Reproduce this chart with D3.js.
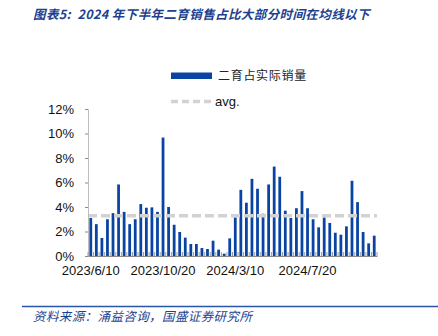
<!DOCTYPE html>
<html>
<head>
<meta charset="utf-8">
<script src="https://cdn.jsdelivr.net/npm/d3@7"></script>
<style>
  html, body { margin: 0; padding: 0; background: #fff; }
  svg { display: block; }
  .cjk { font-family: "Noto Sans CJK SC", sans-serif; }
  .num { font-family: "Liberation Sans", Arial, sans-serif; }
</style>
</head>
<body>
<svg id="chart" width="438" height="336"></svg>
<script>
// Ten-day periods (旬) of the sampled sales survey
const periods = [
  "2023/6/10","2023/6/20","2023/6/30","2023/7/10","2023/7/20","2023/7/31","2023/8/10","2023/8/20","2023/8/31",
  "2023/9/10","2023/9/20","2023/9/30","2023/10/10","2023/10/20","2023/10/31","2023/11/10","2023/11/20",
  "2023/11/30","2023/12/10","2023/12/20","2023/12/31","2024/1/10","2024/1/20","2024/1/31","2024/2/10",
  "2024/2/29","2024/3/10","2024/3/20","2024/3/31","2024/4/10","2024/4/20","2024/4/30","2024/5/10",
  "2024/5/20","2024/5/31","2024/6/10","2024/6/20","2024/6/30","2024/7/10","2024/7/20","2024/7/31",
  "2024/8/10","2024/8/20","2024/8/31","2024/9/10","2024/9/20","2024/9/30","2024/10/10","2024/10/20",
  "2024/10/31","2024/11/10","2024/11/20"
];

// 二育占实际销量 (%)
const shareValues = [
  3.1, 2.6, 1.47, 3.0, 3.5, 5.84, 3.6, 2.6, 3.0, 4.24,
  3.94, 3.97, 3.6, 9.67, 4.0, 2.55, 1.96, 1.5, 0.98, 0.98,
  0.65, 0.57, 1.25, 0.52, 0.19, 1.44, 3.15, 5.4, 4.35, 6.3,
  5.49, 3.45, 5.84, 7.3, 6.47, 3.7, 3.1, 3.9, 5.3, 3.9,
  3.0, 2.34, 3.15, 2.7, 1.9, 1.74, 2.42, 6.14, 4.4, 1.96,
  1.03, 1.66
];

const xTickLabels = ["2023/6/10", "2023/10/20", "2024/3/10", "2024/7/20"];
const yTicks = [0, 2, 4, 6, 8, 10, 12];

const seriesName = "二育占实际销量";
const avgName = "avg.";
const titleText = "图表5:  2024 年下半年二育销售占比大部分时间在均线以下";
const sourceText = "资料来源：涌益咨询，国盛证券研究所";

const BLUE = "#0a44a3";
const AVG_GREY = "#d2d2d2";
const TEXT_BLUE = "#1d3f8f";

const svg = d3.select("#chart");

const margin = { left: 88, right: 61, top: 109, bottom: 80 };
const W = 438, H = 336;
const innerW = W - margin.left - margin.right;
const innerH = H - margin.top - margin.bottom;

const x = d3.scaleBand().domain(periods).range([margin.left, margin.left + innerW]).paddingInner(0.5).paddingOuter(0.25);
const y = d3.scaleLinear().domain([0, 12]).range([margin.top + innerH, margin.top]);

// Title
svg.append("text")
  .attr("class", "cjk")
  .attr("x", 33).attr("y", 19)
  .attr("fill", TEXT_BLUE)
  .attr("font-size", 12.5)
  .attr("font-weight", "bold")
  .attr("font-style", "italic")
  .attr("letter-spacing", 0.4)
  .attr("xml:space", "preserve")
  .text(titleText);

// Bars
svg.append("g").selectAll("rect")
  .data(shareValues)
  .join("rect")
  .attr("x", (d, i) => x(periods[i]))
  .attr("y", d => y(d))
  .attr("width", x.bandwidth())
  .attr("height", d => y(0) - y(d))
  .attr("fill", BLUE);

// Average line
const avg = d3.mean(shareValues);
svg.append("line")
  .attr("x1", margin.left).attr("x2", margin.left + innerW)
  .attr("y1", y(avg)).attr("y2", y(avg))
  .attr("stroke", AVG_GREY)
  .attr("stroke-width", 3.5)
  .attr("stroke-dasharray", "9,4");

// Y axis
const yAxis = svg.append("g")
  .attr("transform", `translate(${margin.left},0)`)
  .call(d3.axisLeft(y).tickValues(yTicks).tickFormat(d => d + "%").tickSizeOuter(0).tickSize(3).tickPadding(11));
yAxis.select(".domain").attr("stroke", "#bdbdbd");
yAxis.selectAll(".tick line").attr("stroke", "#8a8a8a");
yAxis.selectAll("text").attr("class", "num").attr("font-size", 13).attr("fill", "#111");

// X axis: tick marks at category boundaries pointing inward
const xBase = y(0);
const boundaries = periods.map((p, i) => x(p) - x.step() * x.paddingInner() / 2);
boundaries.push(x(periods[periods.length - 1]) + x.bandwidth() + x.step() * x.paddingInner() / 2);
svg.append("g").selectAll("line")
  .data(boundaries)
  .join("line")
  .attr("x1", d => d).attr("x2", d => d)
  .attr("y1", xBase).attr("y2", xBase - 4)
  .attr("stroke", "#9a9a9a").attr("stroke-width", 1);

const xAxis = svg.append("g")
  .attr("transform", `translate(0,${xBase})`)
  .call(d3.axisBottom(x).tickValues(xTickLabels).tickSize(0).tickSizeOuter(0).tickPadding(10));
xAxis.select(".domain").attr("stroke", "#8a8a8a").attr("stroke-width", 1.2);
xAxis.selectAll("text").attr("class", "num").attr("font-size", 13).attr("fill", "#111");

// Legend
const legend = svg.append("g");
legend.append("rect")
  .attr("x", 171).attr("y", 72.5).attr("width", 41).attr("height", 6.5)
  .attr("fill", BLUE);
legend.append("text")
  .attr("class", "cjk")
  .attr("x", 218).attr("y", 80)
  .attr("font-size", 12).attr("letter-spacing", 0.7).attr("fill", "#222")
  .text(seriesName);
legend.append("line")
  .attr("x1", 171).attr("x2", 213).attr("y1", 101.5).attr("y2", 101.5)
  .attr("stroke", AVG_GREY).attr("stroke-width", 3.5).attr("stroke-dasharray", "7,4");
legend.append("text")
  .attr("class", "num")
  .attr("x", 215).attr("y", 106)
  .attr("font-size", 13).attr("fill", "#111")
  .text(avgName);

// Footer rule and source note
svg.append("line")
  .attr("x1", 22).attr("x2", 438).attr("y1", 306.5).attr("y2", 306.5)
  .attr("stroke", "#2a56a8").attr("stroke-width", 1.5);
svg.append("text")
  .attr("class", "cjk")
  .attr("x", 33).attr("y", 321)
  .attr("fill", TEXT_BLUE)
  .attr("font-size", 12.5)
  .attr("font-style", "italic")
  .attr("letter-spacing", 0.4)
  .text(sourceText);
</script>
</body>
</html>
